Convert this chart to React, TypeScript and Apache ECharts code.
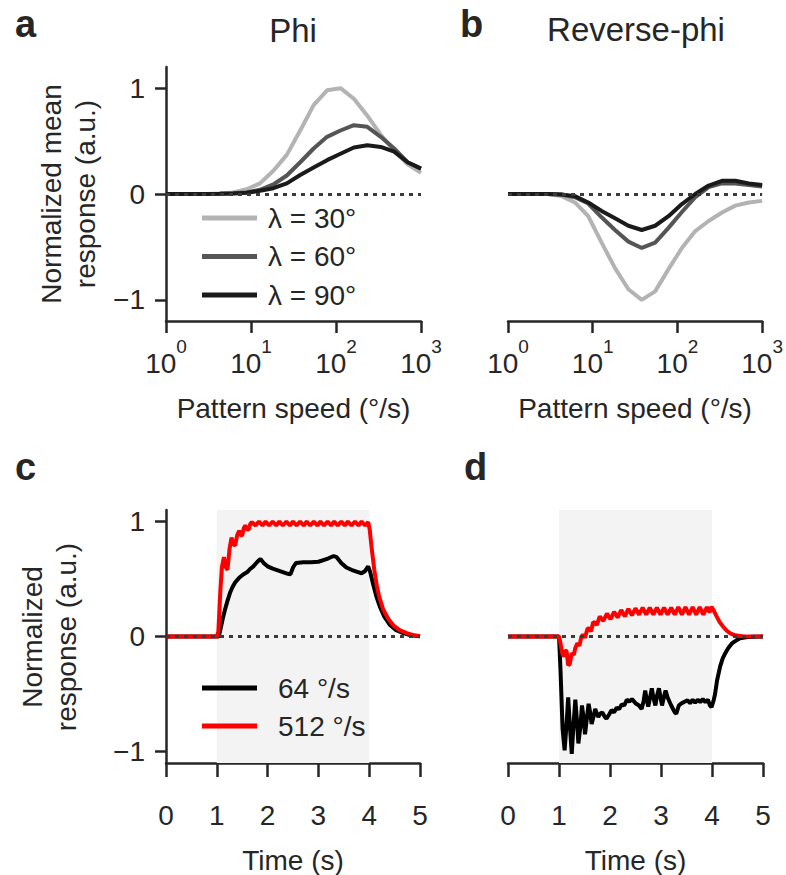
import React, { useEffect, useRef } from 'react';
import * as echarts from 'echarts';

// ---------- data ----------
const speeds = [1, 1.438, 2.069, 2.976, 4.281, 6.158, 8.859, 12.74, 18.33, 26.37, 37.93, 54.56, 78.48, 112.9, 162.4, 233.6, 336.0, 483.3, 695.2, 1000];

const phi30 = [0, 0, 0, 0, 0.005, 0.015, 0.045, 0.1, 0.22, 0.37, 0.6, 0.84, 0.98, 1.0, 0.9, 0.74, 0.56, 0.41, 0.28, 0.2];
const phi60 = [0, 0, 0, 0, 0.002, 0.006, 0.015, 0.04, 0.09, 0.175, 0.3, 0.43, 0.54, 0.6, 0.65, 0.635, 0.54, 0.43, 0.3, 0.24];
const phi90 = [0, 0, 0, 0, 0.002, 0.005, 0.012, 0.03, 0.055, 0.1, 0.18, 0.25, 0.32, 0.38, 0.44, 0.46, 0.445, 0.4, 0.3, 0.24];

const rphi30 = [0, 0, 0, 0, -0.02, -0.08, -0.21, -0.46, -0.7, -0.9, -1.0, -0.92, -0.71, -0.51, -0.35, -0.255, -0.175, -0.11, -0.08, -0.065];
const rphi60 = [0, 0, 0, 0, -0.005, -0.03, -0.09, -0.22, -0.34, -0.45, -0.51, -0.46, -0.32, -0.17, -0.03, 0.065, 0.1, 0.1, 0.085, 0.07];
const rphi90 = [0, 0, 0, 0, -0.005, -0.02, -0.08, -0.16, -0.23, -0.3, -0.34, -0.3, -0.21, -0.095, 0.0, 0.08, 0.125, 0.125, 0.1, 0.085];

const lambdaNames = ['λ = 30°', 'λ = 60°', 'λ = 90°'];
const speedNames = ['64 °/s', '512 °/s'];
const yTicks = [-1, 0, 1];
const stimOn = 1;
const stimOff = 4;

// Panel c: phi, time traces [t (s), response]
const c64: [number, number][] = [
  [0, 0], [1.0, 0], [1.04, 0.0], [1.08, 0.08], [1.12, 0.16], [1.16, 0.23], [1.21, 0.31], [1.26, 0.38], [1.31, 0.43],
  [1.36, 0.47], [1.44, 0.51], [1.52, 0.54], [1.6, 0.56], [1.65, 0.585], [1.72, 0.61], [1.8, 0.65], [1.86, 0.675],
  [1.92, 0.64], [2.0, 0.61], [2.1, 0.59], [2.2, 0.575], [2.3, 0.56], [2.4, 0.545], [2.45, 0.54], [2.5, 0.6],
  [2.56, 0.64], [2.7, 0.645], [2.85, 0.645], [3.0, 0.65], [3.1, 0.665], [3.2, 0.68], [3.3, 0.7], [3.36, 0.69],
  [3.45, 0.64], [3.55, 0.6], [3.65, 0.58], [3.75, 0.565], [3.85, 0.55], [3.92, 0.57], [3.98, 0.61], [4.02, 0.56],
  [4.08, 0.45], [4.14, 0.35], [4.21, 0.26], [4.3, 0.17], [4.41, 0.1], [4.53, 0.055], [4.67, 0.03], [4.8, 0.013],
  [4.93, 0.005], [5, 0.003],
];
const c512: [number, number][] = [
  [0, 0], [1.0, 0], [1.03, 0.04], [1.07, 0.4], [1.1, 0.6], [1.14, 0.69], [1.18, 0.6], [1.21, 0.58], [1.25, 0.76],
  [1.29, 0.86], [1.33, 0.8], [1.36, 0.79], [1.4, 0.88], [1.44, 0.92], [1.47, 0.88], [1.5, 0.88], [1.53, 0.94],
  [1.56, 0.965], [1.6, 0.93], [1.63, 0.93], [1.66, 0.98], [1.69, 0.995], [1.76, 0.965], [1.83, 1.0], [1.9, 0.965],
  [1.96, 1.0], [2.03, 0.965], [2.1, 1.0], [2.17, 0.965], [2.23, 1.0], [2.3, 0.965], [2.37, 1.0], [2.44, 0.965],
  [2.5, 1.0], [2.57, 0.965], [2.64, 1.0], [2.71, 0.965], [2.77, 1.0], [2.84, 0.965], [2.91, 1.0], [2.98, 0.965],
  [3.04, 1.0], [3.11, 0.965], [3.18, 1.0], [3.25, 0.965], [3.31, 1.0], [3.38, 0.965], [3.45, 1.0], [3.52, 0.965],
  [3.58, 1.0], [3.65, 0.965], [3.72, 1.0], [3.79, 0.965], [3.85, 1.0], [3.92, 0.965], [3.98, 0.995], [4.01, 0.93],
  [4.05, 0.76], [4.1, 0.58], [4.15, 0.44], [4.2, 0.34], [4.28, 0.23], [4.38, 0.15], [4.48, 0.095], [4.6, 0.055],
  [4.74, 0.03], [4.87, 0.012], [5, 0.004],
];

// Panel d: reverse-phi, time traces
const d64: [number, number][] = [
  [0, 0], [1.0, 0], [1.03, -0.3], [1.07, -0.8], [1.11, -0.99], [1.15, -0.75], [1.18, -0.53], [1.21, -0.75],
  [1.25, -1.02], [1.28, -0.8], [1.32, -0.55], [1.35, -0.72], [1.38, -0.93], [1.42, -0.78], [1.45, -0.6],
  [1.48, -0.7], [1.51, -0.85], [1.55, -0.7], [1.58, -0.585], [1.61, -0.66], [1.64, -0.76], [1.68, -0.69],
  [1.71, -0.63], [1.74, -0.67], [1.77, -0.7], [1.81, -0.67], [1.85, -0.66], [1.9, -0.7], [1.93, -0.715],
  [1.98, -0.68], [2.03, -0.64], [2.08, -0.66], [2.13, -0.62], [2.18, -0.63], [2.23, -0.59], [2.28, -0.6],
  [2.33, -0.55], [2.38, -0.565], [2.43, -0.545], [2.5, -0.58], [2.57, -0.6], [2.62, -0.63], [2.66, -0.56],
  [2.69, -0.47], [2.72, -0.55], [2.75, -0.61], [2.79, -0.52], [2.82, -0.45], [2.85, -0.53], [2.89, -0.6],
  [2.92, -0.52], [2.96, -0.45], [2.99, -0.53], [3.02, -0.6], [3.06, -0.52], [3.09, -0.47], [3.13, -0.53],
  [3.2, -0.6], [3.27, -0.66], [3.3, -0.67], [3.35, -0.6], [3.39, -0.585], [3.45, -0.57], [3.52, -0.555],
  [3.57, -0.58], [3.62, -0.55], [3.67, -0.575], [3.72, -0.55], [3.77, -0.57], [3.82, -0.545], [3.87, -0.57],
  [3.92, -0.55], [3.96, -0.6], [3.99, -0.615], [4.03, -0.56], [4.06, -0.5], [4.1, -0.38], [4.16, -0.26],
  [4.21, -0.19], [4.26, -0.145], [4.32, -0.1], [4.39, -0.06], [4.47, -0.035], [4.55, -0.015], [4.7, -0.005], [5, 0],
];
const d512: [number, number][] = [
  [0, 0], [1.0, 0], [1.03, -0.06], [1.06, -0.14], [1.09, -0.175], [1.12, -0.12], [1.15, -0.13], [1.18, -0.25],
  [1.21, -0.24], [1.25, -0.145], [1.29, -0.16], [1.32, -0.1], [1.36, -0.06], [1.4, -0.08], [1.44, 0.0],
  [1.47, 0.015], [1.51, -0.01], [1.56, 0.07], [1.59, 0.07], [1.63, 0.045], [1.67, 0.125], [1.7, 0.12],
  [1.74, 0.1], [1.8, 0.175], [1.87, 0.135], [1.94, 0.2], [2.01, 0.15], [2.08, 0.215], [2.15, 0.165], [2.22, 0.23],
  [2.29, 0.175], [2.36, 0.24], [2.43, 0.185], [2.5, 0.245], [2.57, 0.19], [2.64, 0.25], [2.71, 0.19], [2.78, 0.25],
  [2.85, 0.19], [2.92, 0.25], [2.99, 0.19], [3.06, 0.25], [3.13, 0.19], [3.2, 0.25], [3.27, 0.19], [3.34, 0.255],
  [3.41, 0.19], [3.48, 0.255], [3.55, 0.19], [3.62, 0.255], [3.69, 0.19], [3.76, 0.255], [3.83, 0.19], [3.9, 0.255],
  [3.95, 0.21], [3.99, 0.26], [4.04, 0.22], [4.09, 0.175], [4.15, 0.125], [4.22, 0.085], [4.29, 0.05],
  [4.36, 0.027], [4.45, 0.01], [4.6, 0.002], [5, 0],
];

// ---------- styles ----------
const FONT = '"Liberation Sans", Arial, Helvetica, sans-serif';
const INK = '#262626';
const GRAYS = ['#b3b3b3', '#555555', '#1a1a1a'];
const BLACK = '#000000';
const RED = '#ff0000';

const fmtY = (v: number) => (v < 0 ? '\u2212' + Math.abs(v) : String(v));

function logXAxis(i: number) {
  return {
    type: 'log', logBase: 10, gridIndex: i, min: 1, max: 1000,
    axisLine: { show: true, onZero: false, lineStyle: { color: INK, width: 2.5 } },
    axisTick: { show: true, length: 12, lineStyle: { color: INK, width: 2.5 } },
    minorTick: { show: false }, splitLine: { show: false },
    axisLabel: {
      margin: 16,
      formatter: (v: number) => `{b|10}{s|${Math.round(Math.log10(v))}}`,
      rich: {
        b: { fontSize: 28, fontFamily: FONT, color: INK, lineHeight: 40, verticalAlign: 'bottom' },
        s: { fontSize: 19, fontFamily: FONT, color: INK, lineHeight: 19, verticalAlign: 'top' },
      },
    },
    name: 'Pattern speed (°/s)', nameLocation: 'middle', nameGap: 73,
    nameTextStyle: { fontSize: 28, color: INK, fontFamily: FONT },
  };
}
function timeXAxis(i: number) {
  return {
    type: 'value', gridIndex: i, min: 0, max: 5, interval: 1,
    axisLine: { show: true, onZero: false, lineStyle: { color: INK, width: 2.5 } },
    axisTick: { show: true, length: 14, lineStyle: { color: INK, width: 2.5 } },
    splitLine: { show: false },
    axisLabel: { margin: 38, fontSize: 28, color: INK, fontFamily: FONT },
    name: 'Time (s)', nameLocation: 'middle', nameGap: 83,
    nameTextStyle: { fontSize: 28, color: INK, fontFamily: FONT },
  };
}
function yAxisDef(i: number, r: number, show: boolean) {
  return {
    type: 'value', gridIndex: i, min: -r, max: r, show,
    axisLine: { show: true, lineStyle: { color: INK, width: 2.5 } },
    axisTick: { show: true, length: 11, customValues: yTicks, lineStyle: { color: INK, width: 2.5 } },
    splitLine: { show: false },
    axisLabel: { customValues: yTicks, formatter: fmtY, margin: 21, fontSize: 28, color: INK, fontFamily: FONT },
  };
}

function lineSeries(name: string, data: any[], idx: number, color: string, width: number) {
  return {
    type: 'line', name, xAxisIndex: idx, yAxisIndex: idx, data, symbol: 'none', z: 3,
    lineStyle: { color, width }, itemStyle: { color }, emphasis: { disabled: true },
  };
}
function zeroLine(idx: number) {
  return {
    type: 'line', xAxisIndex: idx, yAxisIndex: idx, data: [], z: 2, symbol: 'none',
    markLine: {
      silent: true, symbol: ['none', 'none'], label: { show: false },
      lineStyle: { color: '#3a3a3a', width: 3, type: [4, 5] },
      data: [{ yAxis: 0 }],
    },
  };
}
function stimArea(idx: number) {
  return {
    type: 'line', xAxisIndex: idx, yAxisIndex: idx, data: [], z: 1, symbol: 'none',
    markArea: { silent: true, itemStyle: { color: '#f3f3f3' }, data: [[{ xAxis: stimOn }, { xAxis: stimOff }]] },
  };
}

const App: React.FC = () => {
  const ref = useRef<HTMLDivElement>(null);
  useEffect(() => {
    if (!ref.current) return;
    const chart = echarts.init(ref.current, undefined, { renderer: 'svg' });
    const phiSets = [phi30, phi60, phi90];
    const rphiSets = [rphi30, rphi60, rphi90];
    const series: any[] = [zeroLine(0), zeroLine(1), stimArea(2), stimArea(3), zeroLine(2), zeroLine(3)];
    phiSets.forEach((v, k) => series.push(lineSeries(lambdaNames[k], speeds.map((s, j) => [s, v[j]]), 0, GRAYS[k], 4)));
    rphiSets.forEach((v, k) => series.push(lineSeries(lambdaNames[k], speeds.map((s, j) => [s, v[j]]), 1, GRAYS[k], 4)));
    series.push(lineSeries(speedNames[0], c64, 2, BLACK, 4));
    series.push(lineSeries(speedNames[1], c512, 2, RED, 4));
    series.push(lineSeries(speedNames[0], d64, 3, BLACK, 4));
    series.push(lineSeries(speedNames[1], d512, 3, RED, 4));

    const txt = (text: string, x: number, y: number, size: number, opts: any = {}) => ({
      type: 'text', x, y, rotation: opts.rotation || 0,
      style: {
        text, fontSize: size, fontFamily: FONT, fontWeight: opts.bold ? 'bold' : 'normal', fill: INK,
        align: opts.align || 'left', verticalAlign: 'middle', lineHeight: opts.lineHeight,
      },
    });

    const legendBase = {
      orient: 'vertical', left: 202, padding: 0, icon: 'rect',
      itemWidth: 55, itemHeight: 5, selectedMode: false,
    };

    chart.setOption({
      animation: false,
      backgroundColor: '#ffffff',
      grid: [
        { left: 166, top: 67, width: 255, height: 254 },
        { left: 508, top: 67, width: 255, height: 254 },
        { left: 166, top: 510, width: 254, height: 253 },
        { left: 508, top: 510, width: 255, height: 253 },
      ],
      xAxis: [logXAxis(0), logXAxis(1), timeXAxis(2), timeXAxis(3)],
      yAxis: [yAxisDef(0, 1.2, true), yAxisDef(1, 1.2, false), yAxisDef(2, 1.1, true), yAxisDef(3, 1.1, false)],
      legend: [
        {
          ...legendBase, data: lambdaNames, top: 204, itemGap: 10.5,
          textStyle: { fontSize: 28, lineHeight: 28, color: INK, fontFamily: FONT, padding: [0, 0, 0, 6] },
        },
        {
          ...legendBase, data: speedNames, top: 674, itemGap: 10,
          textStyle: { fontSize: 28, lineHeight: 28, color: INK, fontFamily: FONT, padding: [0, 0, 0, 16] },
        },
      ],
      graphic: [
        txt('a', 15, 24, 38, { bold: true }),
        txt('b', 460, 24, 38, { bold: true }),
        txt('c', 15, 467, 38, { bold: true }),
        txt('d', 464, 467, 38, { bold: true }),
        txt('Phi', 293, 30, 33, { align: 'center' }),
        txt('Reverse-phi', 636, 29, 33, { align: 'center' }),
        txt('Normalized mean\nresponse (a.u.)', 68, 194, 28, { align: 'center', rotation: Math.PI / 2, lineHeight: 34 }),
        txt('Normalized\nresponse (a.u.)', 49, 637, 28, { align: 'center', rotation: Math.PI / 2, lineHeight: 34 }),
      ],
      series,
    });
    return () => chart.dispose();
  }, []);
  return <div ref={ref} style={{ position: 'absolute', left: 0, top: 0, width: 786, height: 875 }} />;
};

export default App;
